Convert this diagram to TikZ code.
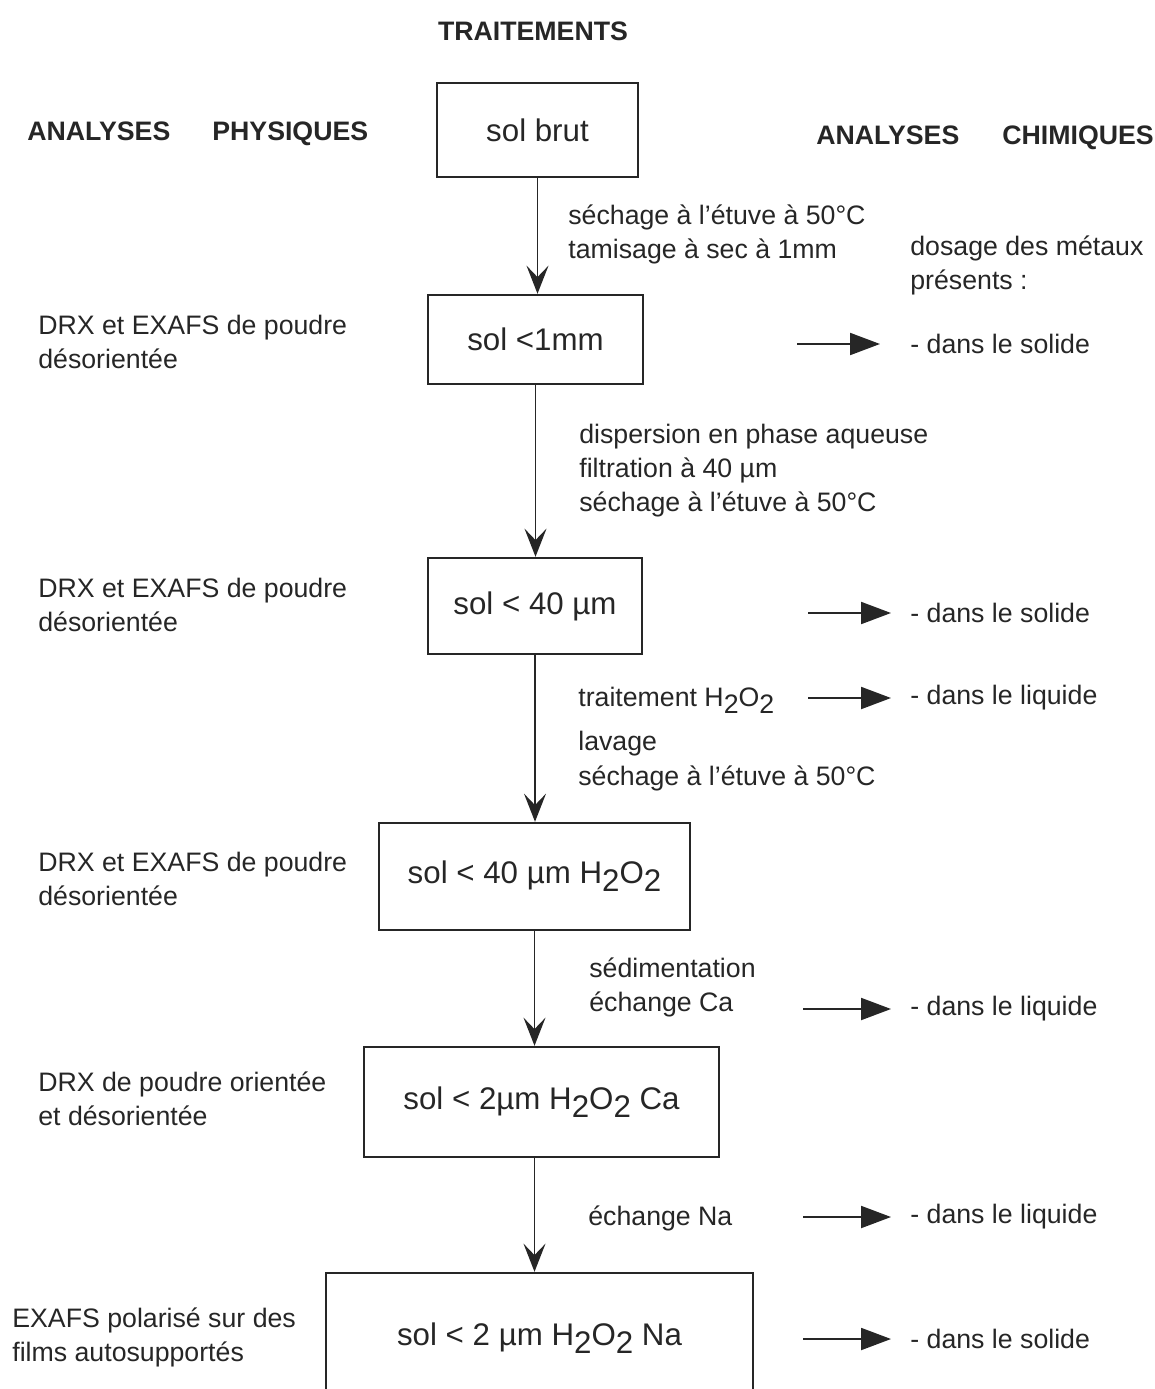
\documentclass[tikz,border=0pt]{standalone}
\usepackage{fontspec}
\setmainfont{Liberation Sans}
\usetikzlibrary{arrows.meta}
\definecolor{ink}{HTML}{262626}
\newcommand{\ind}[1]{\raisebox{-0.5ex}{#1}}

\begin{document}
\begin{tikzpicture}[x=0.02cm,y=-0.02cm,
		every node/.style={text=ink},
		lbl/.style={font=\fontsize{15.2}{19.4}\selectfont, inner sep=0pt, anchor=west, align=left},
		head/.style={font=\bfseries\fontsize{15.2}{18}\selectfont, inner sep=0pt, anchor=base west},
		box/.style={draw=ink, line width=1.4pt, font=\fontsize{17.8}{20}\selectfont},
		flow/.style={draw=ink, line width=1.1pt, -{Stealth[length=16pt,width=12.5pt,inset=6.5pt]}},
		side/.style={draw=ink, line width=1.1pt, -{Triangle[length=17pt,width=12.5pt]}, shorten >=0.38cm}]
		\useasboundingbox (0,0) rectangle (1154,1389);
		\clip (0,0) rectangle (1154,1389);
		% titres
		\node[head,anchor=base] (trt) at (533,41) {TRAITEMENTS};
		\node[head] (anp) at (27,140.5) {ANALYSES};
		\node[head] (phy) at (212,140.5) {PHYSIQUES};
		\node[head] (anc) at (816,144.5) {ANALYSES};
		\node[head] (chi) at (1002,144.5) {CHIMIQUES};
		% echantillons
		\node[box,minimum width=4.02cm,minimum height=1.88cm] (b1) at (537.5,130) {sol brut};
		\node[box,minimum width=4.30cm,minimum height=1.78cm] (b2) at (535.5,339.5) {sol <1mm};
		\node[box,minimum width=4.28cm,minimum height=1.92cm] (b3) at (535,606) {sol < 40 µm};
		\node[box,minimum width=6.22cm,minimum height=2.14cm] (b4) at (534.5,876.5) {sol < 40 µm H\ind{2}O\ind{2}};
		\node[box,minimum width=7.10cm,minimum height=2.20cm] (b5) at (541.5,1102) {sol < 2µm H\ind{2}O\ind{2} Ca};
		\node[box,minimum width=8.54cm,minimum height=2.60cm] (b6) at (539.5,1338) {sol < 2 µm H\ind{2}O\ind{2} Na};
		\draw[flow] (b1.south) -- (b1.south |- b2.north);
		\draw[flow] (b2.south) -- (b2.south |- b3.north);
		\draw[flow] (b3.south) -- (b3.south |- b4.north);
		\draw[flow] (b4.south) -- (b4.south |- b5.north);
		\draw[flow] (b4.south |- b5.south) -- (b4.south |- b6.north);
		% traitements
		\node[lbl] (t1) at (568,234) {séchage à l'étuve à 50°C\\tamisage à sec à 1mm};
		\node[lbl] (t2) at (579,470.5) {dispersion en phase aqueuse\\filtration à 40 µm\\séchage à l'étuve à 50°C};
		\node[lbl] (t3) at (578,739) {traitement H\ind{2}O\ind{2}\\[5.7pt]lavage\\séchage à l'étuve à 50°C};
		\node[lbl] (t4) at (589,987.5) {sédimentation\\échange Ca};
		\node[lbl] (t5) at (588,1218) {échange Na};
		% analyses physiques
		\node[lbl] (p1) at (38,341.5) {DRX et EXAFS de poudre\\désorientée};
		\node[lbl] (p2) at (38,604.5) {DRX et EXAFS de poudre\\désorientée};
		\node[lbl] (p3) at (38,879) {DRX et EXAFS de poudre\\désorientée};
		\node[lbl] (p4) at (38,1098.5) {DRX de poudre orientée\\et désorientée};
		\node[lbl] (p5) at (12,1337) {EXAFS polarisé sur des\\films autosupportés};
		% analyses chimiques
		\node[lbl] (d0) at (910,265) {dosage des métaux\\présents :};
		\node[lbl] (c1) at (910,344) {- dans le solide};
		\node[lbl] (c2) at (910,613) {- dans le solide};
		\node[lbl] (c3) at (910,698) {- dans le liquide};
		\node[lbl] (c4) at (910,1009) {- dans le liquide};
		\node[lbl] (c5) at (910,1217) {- dans le liquide};
		\node[lbl] (c6) at (910,1339) {- dans le solide};
		\coordinate (s1) at (797,344);
		\coordinate (s2) at (808,613);
		\coordinate (s3) at (808,698);
		\coordinate (s4) at (803,1009);
		\coordinate (s5) at (803,1217);
		\coordinate (s6) at (803,1339);
		\draw[side,shorten >=0.6cm] (s1) -- (c1.west);
		\draw[side] (s2) -- (c2.west);
		\draw[side] (s3) -- (c3.west);
		\draw[side] (s4) -- (c4.west);
		\draw[side] (s5) -- (c5.west);
		\draw[side] (s6) -- (c6.west);
	\end{tikzpicture}
\end{document}
